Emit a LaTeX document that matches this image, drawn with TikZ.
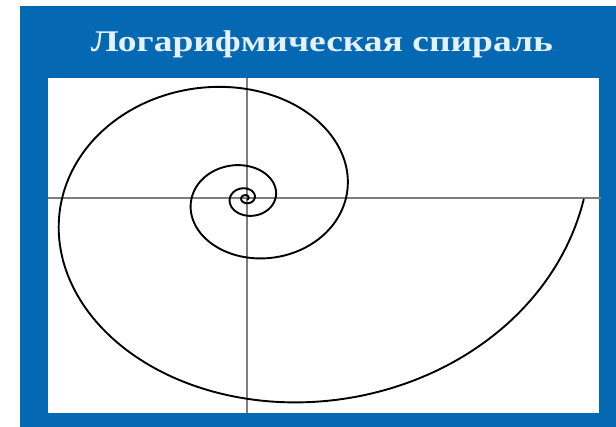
\documentclass[tikz,border=0pt]{standalone}
\usepackage{fontspec}
\setmainfont{Liberation Serif}
\definecolor{bluebg}{RGB}{5,104,178}
\definecolor{titlecol}{RGB}{228,242,255}
\definecolor{axiscol}{RGB}{125,125,125}
\tikzset{
  titletext/.style={font=\bfseries\fontsize{30}{36}\selectfont, inner sep=0pt, anchor=center},
  axisline/.style={draw=axiscol, line width=1.4pt},
  spiralline/.style={draw=black, line width=1.9pt, line join=round, line cap=round}
}
\begin{document}
\begin{tikzpicture}[x=1pt,y=1pt]
\useasboundingbox (0,0) rectangle (616,427);
\fill[white] (0,0) rectangle (616,427);
\fill[bluebg] (20,0) rectangle (616,421);
\fill[white] (48,14) rectangle (599,349);
% title
\node[titletext, text=titlecol] (title) at (322,383) {\scalebox{1.25}[1]{Логарифмическая спираль}};
% axes
\draw[axisline] (48,229) -- (601,229);
\draw[axisline] (247,349) -- (247,14);
% spiral
\draw[spiralline] plot[domain=-26:0, samples=900, smooth]
  ({246+338*exp(0.1939*\x)*cos(\x r)}, {229+272*exp(0.1939*\x)*sin(\x r)});
\end{tikzpicture}
\end{document}
